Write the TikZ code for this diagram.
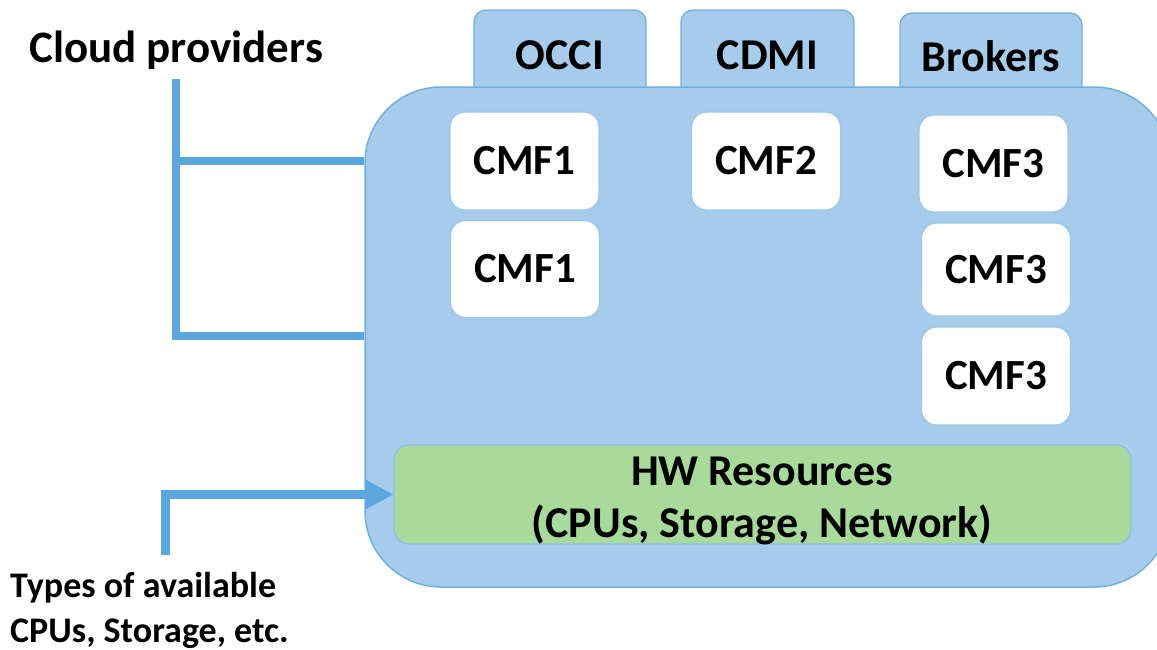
\documentclass[tikz,border=0pt]{standalone}
\usepackage{fontspec}
\setmainfont{Carlito}
\usetikzlibrary{arrows.meta}
\definecolor{boxblue}{HTML}{A7CBEB}
\definecolor{edgeblue}{HTML}{72B0E0}
\definecolor{lineblue}{HTML}{5AA7DE}
\definecolor{hwgreen}{HTML}{A8DA9C}
\begin{document}
\begin{tikzpicture}[x=1pt,y=-1pt,
  tab/.style={draw=edgeblue, fill=boxblue, rounded corners=12pt, line width=1.3pt, inner sep=0pt,
    font=\bfseries\fontsize{44}{50}\selectfont},
  mainbox/.style={draw=edgeblue, fill=boxblue, rounded corners=76pt, line width=1.5pt, inner sep=0pt},
  cmf/.style={draw=edgeblue!70, fill=white, rounded corners=15pt, line width=1.3pt, inner sep=0pt,
    minimum width=149pt, font=\bfseries\fontsize{43}{50}\selectfont},
  hwbox/.style={draw=edgeblue!80, fill=hwgreen, rounded corners=15pt, line width=1.3pt, inner sep=0pt,
    minimum width=737pt, minimum height=99pt},
  label/.style={inner sep=0pt, font=\bfseries},
  conn/.style={draw=lineblue, line width=8pt, line join=miter, line cap=butt}]
\useasboundingbox (0,0) rectangle (1157,649);
% top tabs
\node[tab, minimum width=172pt, minimum height=90pt] (occi) at (560,55) {OCCI};
\node[tab, minimum width=173pt, minimum height=90pt] (cdmi) at (767.5,55) {CDMI};
\node[tab, minimum width=182pt, minimum height=87pt] (brokers) at (991,56.5) {Brokers};
% main box
\node[mainbox, minimum width=805pt, minimum height=500pt] (main) at (767.5,337) {};
% CMF boxes
\node[cmf, minimum height=98pt] (cmf1a) at (524.5,161) {CMF1};
\node[cmf, minimum height=97pt] (cmf1b) at (525,269) {CMF1};
\node[cmf, minimum height=98pt] (cmf2) at (766,161) {CMF2};
\node[cmf, minimum height=97pt] (cmf3a) at (993.5,163.5) {CMF3};
\node[cmf, minimum height=93pt] (cmf3b) at (996,269.5) {CMF3};
\node[cmf, minimum height=98pt] (cmf3c) at (996,376) {CMF3};
% HW resources
\node[hwbox] (hw) at (762.5,494.5) {};
\node[label, anchor=base, align=center, font=\bfseries\fontsize{44}{52}\selectfont] (hwtext) at (762,537)
  {HW Resources\\(CPUs, Storage, Network)};
% labels
\node[label, anchor=base west, font=\bfseries\fontsize{45}{50}\selectfont] (cloud) at (29,62) {Cloud providers};
\node[label, anchor=base west, align=left, font=\bfseries\fontsize{36}{45}\selectfont] (types) at (10,642)
  {Types of available\\CPUs, Storage, etc.};
% bracket
\coordinate (brTop) at (176,79);
\coordinate (brMid) at (176,161);
\coordinate (brBot) at (176,336);
\draw[conn] (brTop) -- (brBot) -- (brBot -| main.west);
\draw[conn] (brMid) -- (brMid -| main.west);
% arrow
\coordinate (arrStart) at (165,555);
\draw[conn, line width=9pt, -{Triangle[length=28pt,width=28pt]}] (arrStart) |- (hw.west);
\end{tikzpicture}
\end{document}
